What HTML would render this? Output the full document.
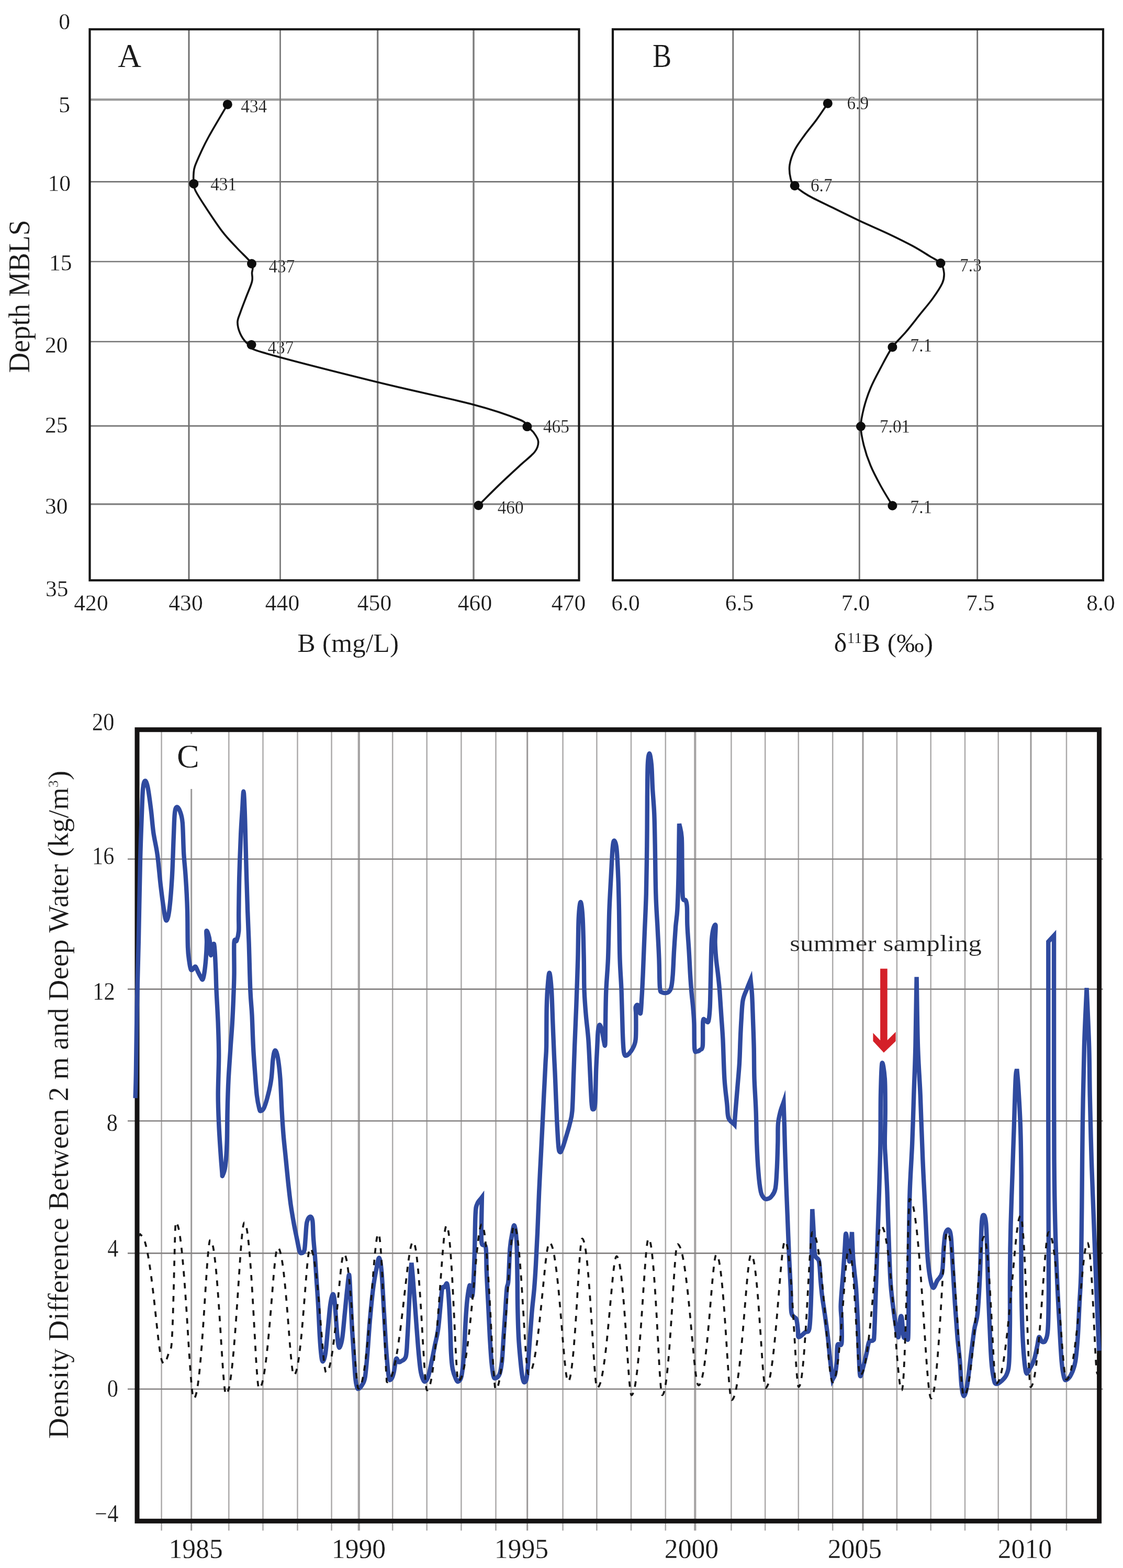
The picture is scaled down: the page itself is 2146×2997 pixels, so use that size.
<!DOCTYPE html>
<html lang="en"><head><meta charset="utf-8"><title>Figure: boron profiles and density difference</title>
<style>html,body{margin:0;padding:0;background:#fff}body{width:2146px;height:2997px;overflow:hidden}svg{display:block}text{font-family:'Liberation Serif', 'DejaVu Serif', serif}</style>
</head><body>
<svg width="2146" height="2997" viewBox="0 0 2146 2997">
<rect width="2146" height="2997" fill="#fff"/>
<g id="panelAB">
<line x1="171.5" y1="190.4" x2="2108.0" y2="190.4" stroke="#9a9a9a" stroke-width="4.4" />
<line x1="171.5" y1="347.4" x2="2108.0" y2="347.4" stroke="#737373" stroke-width="2.7" />
<line x1="171.5" y1="500.0" x2="2108.0" y2="500.0" stroke="#787878" stroke-width="2.7" />
<line x1="171.5" y1="653.0" x2="2108.0" y2="653.0" stroke="#737373" stroke-width="2.7" />
<line x1="171.5" y1="814.2" x2="2108.0" y2="814.2" stroke="#737373" stroke-width="2.7" />
<line x1="171.5" y1="963.6" x2="2108.0" y2="963.6" stroke="#808080" stroke-width="3.4" />
<line x1="361.0" y1="56.0" x2="361.0" y2="1109.2" stroke="#707070" stroke-width="3.0" />
<line x1="535.5" y1="56.0" x2="535.5" y2="1109.2" stroke="#737373" stroke-width="2.6" />
<line x1="721.7" y1="56.0" x2="721.7" y2="1109.2" stroke="#7c7c7c" stroke-width="3.4" />
<line x1="905.0" y1="56.0" x2="905.0" y2="1109.2" stroke="#7c7c7c" stroke-width="3.4" />
<line x1="1400.8" y1="56.0" x2="1400.8" y2="1109.2" stroke="#737373" stroke-width="2.9" />
<line x1="1642.3" y1="56.0" x2="1642.3" y2="1109.2" stroke="#737373" stroke-width="2.9" />
<line x1="1867.7" y1="56.0" x2="1867.7" y2="1109.2" stroke="#737373" stroke-width="2.9" />
<rect x="171.5" y="56" width="935.0" height="1053.2" fill="none" stroke="#161616" stroke-width="4.2"/>
<rect x="1171" y="56" width="937" height="1053.2" fill="none" stroke="#161616" stroke-width="4.2"/>
<path d="M434.8 199.7C422.9 220.1 407.4 245.8 399.0 261.0C390.6 276.1 388.6 281.2 384.2 290.6C379.8 300.1 374.9 310.8 372.5 317.7C370.1 324.6 370.4 326.4 370.0 332.0C369.6 337.6 369.7 345.8 370.3 351.2C370.9 356.6 369.9 357.4 373.5 364.5C377.1 371.6 383.0 381.0 391.6 394.0C400.2 407.0 414.6 429.2 424.9 442.6C435.1 456.0 443.8 464.2 453.2 474.4C462.5 484.7 476.3 496.1 481.0 504.0C485.7 511.9 481.4 516.3 481.5 522.0C481.6 527.7 483.3 530.8 481.5 538.2C479.8 545.6 474.7 556.5 470.9 566.5C467.1 576.5 461.7 590.1 458.9 598.4C456.0 606.6 453.9 609.6 453.9 616.1C453.9 622.6 456.0 630.8 458.9 637.3C461.7 643.8 467.3 651.4 470.9 655.0C474.5 658.6 475.6 656.0 480.5 659.0C485.4 662.0 459.8 661.1 500.0 673.0C540.2 684.9 654.2 713.8 721.7 730.5C789.2 747.2 859.9 761.5 905.0 773.4C950.1 785.3 975.5 795.0 992.6 802.0C1009.7 809.0 1002.9 811.2 1007.4 815.3C1011.9 819.4 1016.2 821.9 1019.7 826.6C1023.2 831.4 1028.2 837.6 1028.6 843.8C1029.0 849.9 1028.0 855.7 1022.0 863.5C1016.0 871.3 1004.1 879.9 992.6 890.6C981.1 901.3 966.0 915.0 953.0 927.6C940.0 940.2 927.2 953.2 914.3 966.0" fill="none" stroke="#111" stroke-width="3.6" stroke-linecap="round" stroke-linejoin="round"/>
<path d="M1581.8 197.7C1574.7 208.0 1567.8 218.7 1560.5 228.6C1553.2 238.6 1545.0 248.0 1538.0 257.6C1531.0 267.3 1523.5 277.0 1518.7 286.6C1513.8 296.3 1510.3 306.5 1509.0 315.6C1507.7 324.7 1509.3 334.8 1510.9 341.4C1512.5 347.9 1513.1 349.5 1518.7 354.9C1524.2 360.3 1532.6 366.7 1544.4 373.6C1556.2 380.4 1573.2 388.1 1589.5 396.1C1605.8 404.2 1624.1 413.3 1642.3 421.9C1660.6 430.5 1682.0 439.6 1699.0 447.6C1716.0 455.7 1731.2 463.2 1744.1 470.2C1757.0 477.2 1767.4 484.0 1776.3 489.5C1785.2 495.0 1792.9 497.7 1797.5 503.0C1802.2 508.4 1803.4 515.4 1804.0 521.7C1804.5 528.0 1804.3 533.0 1800.8 541.0C1797.2 549.1 1790.0 559.8 1782.7 570.0C1775.4 580.2 1765.6 591.5 1757.0 602.2C1748.4 613.0 1739.8 624.2 1731.2 634.4C1722.6 644.6 1713.5 652.0 1705.4 663.4C1697.4 674.8 1689.9 690.0 1682.9 703.1C1675.9 716.1 1668.9 728.8 1663.6 741.7C1658.2 754.6 1653.8 768.1 1650.7 780.3C1647.6 792.6 1644.9 803.3 1644.9 815.1C1644.9 826.9 1647.6 838.7 1650.7 851.2C1653.8 863.6 1658.2 877.0 1663.6 889.8C1668.9 902.7 1675.9 915.7 1682.9 928.5C1689.9 941.3 1697.9 953.8 1705.4 966.5" fill="none" stroke="#111" stroke-width="3.6" stroke-linecap="round" stroke-linejoin="round"/>
<circle cx="434.8" cy="199.7" r="9.0" fill="#0d0d0d"/>
<circle cx="370.3" cy="351.2" r="9.0" fill="#0d0d0d"/>
<circle cx="481.0" cy="504.0" r="9.0" fill="#0d0d0d"/>
<circle cx="480.5" cy="659.0" r="9.0" fill="#0d0d0d"/>
<circle cx="1007.4" cy="815.3" r="9.0" fill="#0d0d0d"/>
<circle cx="914.3" cy="966.0" r="9.0" fill="#0d0d0d"/>
<circle cx="1581.8" cy="197.7" r="9.0" fill="#0d0d0d"/>
<circle cx="1518.7" cy="354.9" r="9.0" fill="#0d0d0d"/>
<circle cx="1797.5" cy="503.0" r="9.0" fill="#0d0d0d"/>
<circle cx="1705.4" cy="663.4" r="9.0" fill="#0d0d0d"/>
<circle cx="1644.9" cy="815.0" r="9.0" fill="#0d0d0d"/>
<circle cx="1705.4" cy="966.5" r="9.0" fill="#0d0d0d"/>
<text transform="translate(460.3 214.9) scale(0.9500 1)" font-size="35" text-anchor="start" fill="#1a1a1a" stroke="#fff" stroke-width="0.25" >434</text>
<text transform="translate(402.2 364.0) scale(0.9500 1)" font-size="35" text-anchor="start" fill="#1a1a1a" stroke="#fff" stroke-width="0.25" >431</text>
<text transform="translate(513.4 520.5) scale(0.9500 1)" font-size="35" text-anchor="start" fill="#1a1a1a" stroke="#fff" stroke-width="0.25" >437</text>
<text transform="translate(511.5 676.0) scale(0.9500 1)" font-size="35" text-anchor="start" fill="#1a1a1a" stroke="#fff" stroke-width="0.25" >437</text>
<text transform="translate(1038.0 826.6) scale(0.9500 1)" font-size="35" text-anchor="start" fill="#1a1a1a" stroke="#fff" stroke-width="0.25" >465</text>
<text transform="translate(950.7 981.8) scale(0.9500 1)" font-size="35" text-anchor="start" fill="#1a1a1a" stroke="#fff" stroke-width="0.25" >460</text>
<text transform="translate(1618.5 209.3) scale(0.9500 1)" font-size="35" text-anchor="start" fill="#1a1a1a" stroke="#fff" stroke-width="0.25" >6.9</text>
<text transform="translate(1549.0 365.8) scale(0.9500 1)" font-size="35" text-anchor="start" fill="#1a1a1a" stroke="#fff" stroke-width="0.25" >6.7</text>
<text transform="translate(1834.2 518.5) scale(0.9500 1)" font-size="35" text-anchor="start" fill="#1a1a1a" stroke="#fff" stroke-width="0.25" >7.3</text>
<text transform="translate(1739.6 671.8) scale(0.9500 1)" font-size="35" text-anchor="start" fill="#1a1a1a" stroke="#fff" stroke-width="0.25" >7.1</text>
<text transform="translate(1681.0 826.7) scale(0.9500 1)" font-size="35" text-anchor="start" fill="#1a1a1a" stroke="#fff" stroke-width="0.25" >7.01</text>
<text transform="translate(1739.6 981.3) scale(0.9500 1)" font-size="35" text-anchor="start" fill="#1a1a1a" stroke="#fff" stroke-width="0.25" >7.1</text>
<text transform="translate(134.0 56.0) scale(0.9850 1)" font-size="44.2" text-anchor="end" fill="#1a1a1a" stroke="#fff" stroke-width="0.25" >0</text>
<text transform="translate(134.0 214.8) scale(0.9850 1)" font-size="44.2" text-anchor="end" fill="#1a1a1a" stroke="#fff" stroke-width="0.25" >5</text>
<text transform="translate(135.0 364.5) scale(0.9850 1)" font-size="44.2" text-anchor="end" fill="#1a1a1a" stroke="#fff" stroke-width="0.25" >10</text>
<text transform="translate(137.5 517.3) scale(0.9850 1)" font-size="44.2" text-anchor="end" fill="#1a1a1a" stroke="#fff" stroke-width="0.25" >15</text>
<text transform="translate(129.5 673.7) scale(0.9850 1)" font-size="44.2" text-anchor="end" fill="#1a1a1a" stroke="#fff" stroke-width="0.25" >20</text>
<text transform="translate(129.5 826.7) scale(0.9850 1)" font-size="44.2" text-anchor="end" fill="#1a1a1a" stroke="#fff" stroke-width="0.25" >25</text>
<text transform="translate(129.5 982.0) scale(0.9850 1)" font-size="44.2" text-anchor="end" fill="#1a1a1a" stroke="#fff" stroke-width="0.25" >30</text>
<text transform="translate(130.5 1140.0) scale(0.9850 1)" font-size="44.2" text-anchor="end" fill="#1a1a1a" stroke="#fff" stroke-width="0.25" >35</text>
<text transform="translate(174.0 1166.7) scale(0.9850 1)" font-size="44.2" text-anchor="middle" fill="#1a1a1a" stroke="#fff" stroke-width="0.25" >420</text>
<text transform="translate(355.0 1166.7) scale(0.9850 1)" font-size="44.2" text-anchor="middle" fill="#1a1a1a" stroke="#fff" stroke-width="0.25" >430</text>
<text transform="translate(539.5 1166.7) scale(0.9850 1)" font-size="44.2" text-anchor="middle" fill="#1a1a1a" stroke="#fff" stroke-width="0.25" >440</text>
<text transform="translate(715.5 1166.7) scale(0.9850 1)" font-size="44.2" text-anchor="middle" fill="#1a1a1a" stroke="#fff" stroke-width="0.25" >450</text>
<text transform="translate(907.5 1166.7) scale(0.9850 1)" font-size="44.2" text-anchor="middle" fill="#1a1a1a" stroke="#fff" stroke-width="0.25" >460</text>
<text transform="translate(1086.5 1166.7) scale(0.9850 1)" font-size="44.2" text-anchor="middle" fill="#1a1a1a" stroke="#fff" stroke-width="0.25" >470</text>
<text transform="translate(1195.5 1166.7) scale(0.9850 1)" font-size="44.2" text-anchor="middle" fill="#1a1a1a" stroke="#fff" stroke-width="0.25" >6.0</text>
<text transform="translate(1413.0 1166.7) scale(0.9850 1)" font-size="44.2" text-anchor="middle" fill="#1a1a1a" stroke="#fff" stroke-width="0.25" >6.5</text>
<text transform="translate(1635.0 1166.7) scale(0.9850 1)" font-size="44.2" text-anchor="middle" fill="#1a1a1a" stroke="#fff" stroke-width="0.25" >7.0</text>
<text transform="translate(1873.5 1166.7) scale(0.9850 1)" font-size="44.2" text-anchor="middle" fill="#1a1a1a" stroke="#fff" stroke-width="0.25" >7.5</text>
<text transform="translate(2103.5 1166.7) scale(0.9850 1)" font-size="44.2" text-anchor="middle" fill="#1a1a1a" stroke="#fff" stroke-width="0.25" >8.0</text>
<text transform="translate(225.0 128.0) scale(0.9800 1)" font-size="64" text-anchor="start" fill="#1a1a1a" stroke="#fff" stroke-width="0.25" >A</text>
<text transform="translate(1247.0 127.5) scale(0.8500 1)" font-size="64" text-anchor="start" fill="#1a1a1a" stroke="#fff" stroke-width="0.25" >B</text>
<text transform="translate(55.6 566.5) rotate(-90) scale(0.9480 1)" font-size="57" text-anchor="middle" fill="#1a1a1a" stroke="#fff" stroke-width="0.25" >Depth MBLS</text>
<text transform="translate(665.2 1245.5) scale(1.0050 1)" font-size="51.5" text-anchor="middle" fill="#1a1a1a" stroke="#fff" stroke-width="0.25" >B (mg/L)</text>
<text transform="translate(1688.4 1246.0) scale(1.0250 1)" font-size="51.5" text-anchor="middle" fill="#1a1a1a" stroke="#fff" stroke-width="0.25" >δ<tspan font-size="29" dy="-17">11</tspan><tspan dy="17">B (‰)</tspan></text>
</g>
<g id="panelC">
<line x1="308.6" y1="1394.7" x2="308.6" y2="2925.5" stroke="#acaaaa" stroke-width="2.5" />
<line x1="365.7" y1="1394.7" x2="365.7" y2="2925.5" stroke="#9b9999" stroke-width="3.0" />
<line x1="437.3" y1="1394.7" x2="437.3" y2="2925.5" stroke="#acaaaa" stroke-width="2.5" />
<line x1="502.5" y1="1394.7" x2="502.5" y2="2925.5" stroke="#acaaaa" stroke-width="2.5" />
<line x1="568.5" y1="1394.7" x2="568.5" y2="2925.5" stroke="#acaaaa" stroke-width="2.5" />
<line x1="633.6" y1="1394.7" x2="633.6" y2="2925.5" stroke="#acaaaa" stroke-width="2.5" />
<line x1="685.8" y1="1394.7" x2="685.8" y2="2925.5" stroke="#a5a3a3" stroke-width="4.2" />
<line x1="750.2" y1="1394.7" x2="750.2" y2="2925.5" stroke="#acaaaa" stroke-width="2.5" />
<line x1="815.7" y1="1394.7" x2="815.7" y2="2925.5" stroke="#acaaaa" stroke-width="2.5" />
<line x1="881.4" y1="1394.7" x2="881.4" y2="2925.5" stroke="#acaaaa" stroke-width="2.5" />
<line x1="947.5" y1="1394.7" x2="947.5" y2="2925.5" stroke="#acaaaa" stroke-width="2.5" />
<line x1="1007.7" y1="1394.7" x2="1007.7" y2="2925.5" stroke="#9b9999" stroke-width="3.0" />
<line x1="1075.6" y1="1394.7" x2="1075.6" y2="2925.5" stroke="#acaaaa" stroke-width="2.5" />
<line x1="1140.4" y1="1394.7" x2="1140.4" y2="2925.5" stroke="#acaaaa" stroke-width="2.5" />
<line x1="1206.0" y1="1394.7" x2="1206.0" y2="2925.5" stroke="#acaaaa" stroke-width="2.5" />
<line x1="1271.8" y1="1394.7" x2="1271.8" y2="2925.5" stroke="#acaaaa" stroke-width="2.5" />
<line x1="1328.3" y1="1394.7" x2="1328.3" y2="2925.5" stroke="#a5a3a3" stroke-width="4.2" />
<line x1="1397.4" y1="1394.7" x2="1397.4" y2="2925.5" stroke="#acaaaa" stroke-width="2.5" />
<line x1="1462.2" y1="1394.7" x2="1462.2" y2="2925.5" stroke="#acaaaa" stroke-width="2.5" />
<line x1="1525.8" y1="1394.7" x2="1525.8" y2="2925.5" stroke="#acaaaa" stroke-width="2.5" />
<line x1="1591.2" y1="1394.7" x2="1591.2" y2="2925.5" stroke="#acaaaa" stroke-width="2.5" />
<line x1="1649.0" y1="1394.7" x2="1649.0" y2="2925.5" stroke="#9b9999" stroke-width="3.0" />
<line x1="1713.9" y1="1394.7" x2="1713.9" y2="2925.5" stroke="#acaaaa" stroke-width="2.5" />
<line x1="1778.7" y1="1394.7" x2="1778.7" y2="2925.5" stroke="#acaaaa" stroke-width="2.5" />
<line x1="1844.0" y1="1394.7" x2="1844.0" y2="2925.5" stroke="#acaaaa" stroke-width="2.5" />
<line x1="1907.7" y1="1394.7" x2="1907.7" y2="2925.5" stroke="#acaaaa" stroke-width="2.5" />
<line x1="1970.0" y1="1394.7" x2="1970.0" y2="2925.5" stroke="#9b9999" stroke-width="3.0" />
<line x1="2038.0" y1="1394.7" x2="2038.0" y2="2925.5" stroke="#acaaaa" stroke-width="2.5" />
<line x1="244.0" y1="1642.0" x2="2107.5" y2="1642.0" stroke="#858282" stroke-width="2.7" />
<line x1="244.0" y1="1890.6" x2="2107.5" y2="1890.6" stroke="#858282" stroke-width="2.7" />
<line x1="244.0" y1="2142.5" x2="2107.5" y2="2142.5" stroke="#858282" stroke-width="2.7" />
<line x1="244.0" y1="2395.4" x2="2107.5" y2="2395.4" stroke="#858282" stroke-width="2.7" />
<line x1="244.0" y1="2655.0" x2="2107.5" y2="2655.0" stroke="#858282" stroke-width="2.7" />
<rect x="340" y="1403" width="60" height="105" fill="#fff"/>
<rect x="262" y="1394.7" width="1838.6" height="1512.6000000000001" fill="none" stroke="#151313" stroke-width="9"/>
<path d="M258.6 2098.8C259.1 2081.9 259.4 2077.2 259.9 2048.1C260.4 2019.1 260.9 1965.8 261.7 1924.7C262.6 1883.5 263.8 1847.5 264.8 1801.2C265.8 1754.9 266.9 1688.1 267.9 1646.9C268.9 1605.8 270.1 1577.5 271.0 1554.3C271.9 1531.2 272.1 1518.3 273.1 1508.0C274.2 1497.7 275.6 1493.1 277.2 1492.6C278.7 1492.1 280.5 1495.7 282.4 1504.9C284.3 1514.2 286.8 1533.7 288.6 1548.1C290.4 1562.6 291.2 1577.0 293.2 1591.4C295.3 1605.8 298.6 1617.6 300.9 1634.6C303.2 1651.5 305.0 1675.7 307.1 1693.2C309.2 1710.7 311.5 1728.4 313.3 1739.5C315.1 1750.6 316.2 1759.6 317.9 1759.6C319.6 1759.6 321.7 1753.1 323.5 1739.5C325.3 1725.9 327.3 1700.9 328.7 1677.8C330.1 1654.6 330.9 1621.2 331.8 1600.6C332.7 1580.0 332.9 1564.0 334.0 1554.3C335.0 1544.7 336.3 1543.1 338.0 1542.6C339.7 1542.1 342.3 1546.2 344.1 1551.2C345.9 1556.3 347.6 1559.5 348.8 1572.8C349.9 1586.2 350.2 1614.0 351.2 1631.5C352.3 1649.0 353.8 1659.8 354.9 1677.8C356.1 1695.8 357.4 1717.4 358.0 1739.5C358.7 1761.6 358.3 1794.0 359.0 1810.5C359.6 1827.0 360.8 1831.2 361.7 1838.3C362.7 1845.4 363.6 1850.8 364.8 1853.1C366.0 1855.4 367.4 1853.1 368.8 1852.2C370.3 1851.2 371.9 1846.8 373.5 1847.5C375.0 1848.3 376.5 1853.7 378.1 1856.8C379.6 1859.9 381.2 1863.5 382.7 1866.0C384.3 1868.6 386.1 1873.3 387.3 1872.2C388.6 1871.2 389.4 1866.6 390.4 1859.9C391.5 1853.2 392.7 1841.9 393.5 1832.1C394.3 1822.3 394.9 1810.0 395.1 1801.2C395.2 1792.5 393.9 1782.2 394.4 1779.6C395.0 1777.1 397.0 1782.2 398.1 1785.8C399.3 1789.4 400.5 1794.5 401.2 1801.2C402.0 1807.9 401.5 1825.4 402.8 1825.9C404.1 1826.4 407.4 1800.7 409.0 1804.3C410.5 1807.9 411.3 1832.6 412.0 1847.5C412.8 1862.4 412.8 1875.8 413.6 1893.8C414.4 1911.8 415.9 1935.0 416.7 1955.6C417.4 1976.1 418.2 1994.4 418.2 2017.3C418.2 2040.1 416.7 2070.8 416.7 2092.6C416.7 2114.4 417.4 2130.1 418.2 2148.1C419.0 2166.2 420.3 2185.2 421.3 2200.6C422.3 2216.0 423.7 2233.0 424.4 2240.7C425.1 2248.5 424.3 2249.0 425.3 2246.9C426.3 2244.9 429.2 2238.7 430.6 2228.4C431.9 2218.1 433.0 2202.7 433.6 2185.2C434.3 2167.7 434.1 2144.0 434.6 2123.5C435.1 2102.9 435.7 2082.3 436.7 2061.7C437.8 2041.2 439.6 2017.7 440.7 2000.0C441.9 1982.3 443.0 1970.7 443.8 1955.6C444.7 1940.4 445.4 1924.7 446.0 1909.3C446.6 1893.8 447.3 1881.0 447.5 1863.0C447.8 1845.0 446.8 1812.0 447.5 1801.2C448.3 1790.4 450.7 1801.7 452.2 1798.1C453.6 1794.5 455.5 1788.4 456.2 1779.6C456.8 1770.9 456.0 1763.7 456.2 1745.7C456.4 1727.7 456.7 1696.8 457.4 1671.6C458.1 1646.4 459.3 1615.0 460.2 1594.4C461.1 1573.9 462.1 1561.8 463.0 1548.1C463.8 1534.5 464.7 1512.7 465.4 1512.7C466.2 1512.7 467.0 1533.5 467.6 1548.1C468.2 1562.8 468.6 1580.0 469.1 1600.6C469.7 1621.2 470.3 1648.5 471.0 1671.6C471.7 1694.8 472.4 1717.9 473.1 1739.5C473.9 1761.1 474.7 1775.5 475.6 1801.2C476.5 1827.0 477.4 1870.7 478.4 1893.8C479.4 1917.0 480.6 1922.1 481.5 1940.1C482.4 1958.1 483.0 1984.2 484.0 2001.9C484.9 2019.5 485.9 2031.2 487.0 2046.3C488.2 2061.4 489.4 2080.5 490.7 2092.6C492.1 2104.7 494.1 2113.7 495.4 2118.8C496.7 2124.0 496.9 2123.7 498.5 2123.5C500.0 2123.2 502.3 2122.4 504.6 2117.3C506.9 2112.1 510.0 2101.9 512.3 2092.6C514.7 2083.3 517.0 2073.0 518.5 2061.7C520.1 2050.4 520.4 2033.7 521.6 2024.7C522.8 2015.7 524.1 2008.2 525.6 2007.7C527.2 2007.2 529.2 2012.6 530.9 2021.6C532.5 2030.6 534.2 2044.8 535.5 2061.7C536.8 2078.7 537.6 2105.5 538.6 2123.5C539.6 2141.5 540.4 2154.3 541.7 2169.8C543.0 2185.2 544.8 2200.6 546.3 2216.0C547.8 2231.5 549.4 2247.9 550.9 2262.3C552.5 2276.7 553.8 2289.6 555.6 2302.5C557.4 2315.3 559.7 2328.2 561.7 2339.5C563.8 2350.8 566.1 2361.6 567.9 2370.4C569.7 2379.1 571.0 2387.9 572.5 2392.0C574.1 2396.1 575.6 2395.6 577.2 2395.1C578.7 2394.5 580.7 2394.0 581.8 2388.9C582.9 2383.7 583.2 2372.9 584.0 2364.2C584.7 2355.5 585.0 2342.8 586.4 2336.4C587.9 2330.0 590.8 2326.1 592.6 2325.6C594.4 2325.1 596.2 2326.9 597.2 2333.3C598.3 2339.8 598.0 2352.9 598.8 2364.2C599.5 2375.5 600.8 2387.3 601.9 2401.2C602.9 2415.1 603.9 2432.1 604.9 2447.5C606.0 2463.0 607.0 2475.8 608.0 2493.8C609.1 2511.8 610.1 2539.1 611.1 2555.6C612.1 2572.0 613.2 2584.9 614.2 2592.6C615.2 2600.3 616.0 2602.9 617.3 2601.9C618.6 2600.8 620.4 2596.7 621.9 2586.4C623.5 2576.1 625.0 2555.6 626.5 2540.1C628.1 2524.7 629.6 2504.9 631.2 2493.8C632.7 2482.8 634.4 2474.8 635.8 2473.8C637.2 2472.7 638.2 2476.6 639.5 2487.7C640.8 2498.7 642.3 2526.2 643.5 2540.1C644.7 2554.0 645.6 2565.3 646.6 2571.0C647.6 2576.6 648.4 2576.6 649.7 2574.1C651.0 2571.5 652.8 2566.4 654.3 2555.6C655.9 2544.8 657.4 2524.7 659.0 2509.3C660.5 2493.8 662.2 2475.1 663.6 2463.0C665.0 2450.9 666.3 2434.2 667.3 2436.7C668.3 2439.3 668.8 2461.2 669.8 2478.4C670.7 2495.6 671.8 2522.1 672.8 2540.1C673.9 2558.1 674.9 2571.0 675.9 2586.4C677.0 2601.9 678.0 2621.9 679.0 2632.7C680.0 2643.5 681.1 2647.6 682.1 2651.2C683.1 2654.8 683.6 2654.8 685.2 2654.3C686.7 2653.8 689.3 2651.7 691.4 2648.1C693.4 2644.5 695.7 2643.0 697.5 2632.7C699.3 2622.4 700.6 2604.4 702.2 2586.4C703.7 2568.4 705.0 2545.3 706.8 2524.7C708.6 2504.1 710.9 2479.4 713.0 2463.0C715.0 2446.5 717.2 2435.7 719.1 2425.9C721.1 2416.2 722.9 2403.3 724.6 2404.3C726.3 2405.3 727.7 2414.6 729.3 2432.1C730.8 2449.6 732.3 2483.5 733.9 2509.3C735.4 2535.0 737.0 2565.8 738.5 2586.4C740.1 2607.0 741.6 2624.5 743.1 2632.7C744.7 2640.9 746.2 2637.3 747.8 2635.8C749.3 2634.3 750.9 2629.9 752.4 2623.5C754.0 2617.0 755.5 2600.6 757.0 2597.2C758.6 2593.9 760.1 2602.6 761.7 2603.4C763.2 2604.2 764.0 2603.7 766.3 2601.9C768.6 2600.1 773.5 2600.3 775.6 2592.6C777.6 2584.9 777.6 2572.0 778.6 2555.6C779.7 2539.1 780.7 2514.4 781.7 2493.8C782.8 2473.3 784.0 2445.5 784.8 2432.1C785.6 2418.7 785.8 2419.8 786.4 2413.6C787.4 2424.9 788.2 2431.6 789.4 2447.5C790.7 2463.5 792.5 2488.7 794.1 2509.3C795.6 2529.8 797.2 2553.0 798.7 2571.0C800.2 2589.0 801.8 2606.5 803.3 2617.3C804.9 2628.1 806.4 2631.9 808.0 2635.8C809.5 2639.7 810.8 2641.5 812.6 2640.4C814.4 2639.4 816.7 2636.1 818.8 2629.6C820.8 2623.2 822.9 2611.6 824.9 2601.9C827.0 2592.1 829.1 2581.3 831.1 2571.0C833.2 2560.7 835.5 2553.0 837.3 2540.1C839.1 2527.3 840.6 2506.7 841.9 2493.8C843.2 2481.0 843.7 2468.6 845.0 2463.0C846.3 2457.3 848.1 2461.4 849.6 2459.9C851.2 2458.3 853.0 2450.6 854.3 2453.7C855.5 2456.8 856.3 2464.0 857.3 2478.4C858.4 2492.8 859.7 2522.1 860.4 2540.1C861.2 2558.1 861.2 2573.6 862.0 2586.4C862.7 2599.3 863.5 2609.1 865.1 2617.3C866.6 2625.5 869.4 2631.9 871.2 2635.8C873.0 2639.7 874.1 2641.5 875.9 2640.4C877.7 2639.4 880.2 2638.6 882.0 2629.6C883.8 2620.6 885.4 2603.9 886.7 2586.4C888.0 2568.9 888.7 2541.7 889.8 2524.7C890.8 2507.7 891.6 2495.9 892.8 2484.6C894.1 2473.3 896.2 2458.3 897.5 2456.8C898.8 2455.2 899.5 2473.3 900.6 2475.3C901.6 2477.4 902.6 2481.5 903.6 2469.1C904.7 2456.8 905.9 2425.9 906.7 2401.2C907.6 2376.5 907.7 2337.7 908.6 2321.0C909.5 2304.3 909.9 2306.3 912.0 2300.9C914.0 2295.5 917.9 2292.7 920.9 2288.6C920.6 2305.6 920.1 2324.8 920.0 2339.5C919.9 2354.2 919.2 2369.1 920.6 2376.5C922.0 2384.0 926.8 2375.0 928.3 2384.3C929.9 2393.5 929.1 2413.8 929.9 2432.1C930.6 2450.4 931.9 2473.3 933.0 2493.8C934.0 2514.4 935.0 2537.6 936.0 2555.6C937.1 2573.6 938.0 2589.5 939.1 2601.9C940.3 2614.2 941.6 2624.2 942.8 2629.6C944.1 2635.0 944.9 2634.8 946.9 2634.3C948.8 2633.7 952.5 2631.9 954.6 2626.5C956.6 2621.1 957.9 2613.7 959.2 2601.9C960.5 2590.0 961.3 2571.0 962.3 2555.6C963.3 2540.1 964.3 2524.7 965.4 2509.3C966.4 2493.8 967.4 2473.3 968.5 2463.0C969.5 2452.7 970.5 2460.4 971.5 2447.5C972.6 2434.7 973.3 2401.2 974.6 2385.8C975.9 2370.4 977.9 2362.1 979.3 2354.9C980.6 2347.7 981.7 2340.0 983.0 2342.6C984.2 2345.2 986.0 2355.5 987.0 2370.4C987.9 2385.3 988.2 2411.5 988.5 2432.1C988.9 2452.7 988.7 2473.3 989.1 2493.8C989.5 2514.4 990.1 2537.6 991.0 2555.6C991.9 2573.6 993.5 2589.0 994.7 2601.9C995.9 2614.7 997.1 2626.0 998.4 2632.7C999.7 2639.4 1001.0 2642.5 1002.4 2642.0C1003.8 2641.5 1005.5 2641.5 1007.0 2629.6C1008.6 2617.8 1010.1 2591.0 1011.7 2571.0C1013.2 2550.9 1014.8 2527.3 1016.3 2509.3C1017.8 2491.3 1019.6 2478.4 1020.9 2463.0C1022.2 2447.5 1023.0 2434.7 1024.0 2416.7C1025.0 2398.7 1026.1 2378.1 1027.1 2354.9C1028.1 2331.8 1029.2 2300.9 1030.2 2277.8C1031.2 2254.6 1032.2 2236.6 1033.3 2216.0C1034.3 2195.5 1035.3 2174.9 1036.4 2154.3C1037.4 2133.7 1038.4 2113.2 1039.4 2092.6C1040.5 2072.0 1041.8 2046.3 1042.5 2030.9C1043.3 2015.4 1043.7 2017.7 1044.1 2000.0C1044.4 1982.3 1044.2 1945.0 1044.7 1924.7C1045.2 1904.4 1046.2 1889.2 1047.2 1878.4C1048.1 1867.6 1049.1 1857.3 1050.2 1859.9C1051.4 1862.4 1052.9 1877.9 1054.0 1893.8C1055.0 1909.8 1055.6 1935.0 1056.4 1955.6C1057.2 1976.1 1058.1 1999.6 1058.9 2017.3C1059.7 2035.0 1060.2 2041.5 1061.0 2061.7C1061.9 2082.0 1063.1 2117.3 1064.1 2138.9C1065.2 2160.5 1066.2 2180.8 1067.2 2191.4C1068.3 2201.9 1069.0 2201.6 1070.3 2202.2C1071.6 2202.7 1072.9 2199.8 1074.9 2194.4C1077.0 2189.0 1080.3 2177.5 1082.7 2169.8C1085.0 2162.0 1087.0 2155.9 1088.8 2148.1C1090.6 2140.4 1092.3 2137.9 1093.5 2123.5C1094.6 2109.1 1095.2 2082.3 1095.9 2061.7C1096.7 2041.2 1097.2 2022.8 1098.1 2000.0C1099.0 1977.2 1100.1 1952.7 1101.2 1924.7C1102.2 1896.7 1103.5 1860.4 1104.3 1832.1C1105.0 1803.8 1104.9 1772.9 1105.8 1754.9C1106.7 1736.9 1108.2 1724.1 1109.5 1724.1C1110.8 1724.1 1112.5 1736.9 1113.5 1754.9C1114.5 1772.9 1115.2 1809.0 1115.7 1832.1C1116.2 1855.2 1115.9 1875.8 1116.6 1893.8C1117.3 1911.8 1118.4 1924.7 1119.7 1940.1C1121.0 1955.6 1123.0 1968.7 1124.3 1986.4C1125.6 2004.1 1126.4 2026.0 1127.4 2046.3C1128.4 2066.6 1129.5 2095.7 1130.5 2108.0C1131.5 2120.4 1132.4 2120.4 1133.6 2120.4C1134.7 2120.4 1136.4 2120.4 1137.3 2108.0C1138.2 2095.7 1138.5 2064.3 1139.1 2046.3C1139.8 2028.3 1140.7 2012.6 1141.3 2000.0C1141.9 1987.4 1142.1 1977.9 1142.8 1971.0C1143.6 1964.1 1144.6 1958.6 1145.9 1958.6C1147.2 1958.6 1149.3 1966.1 1150.6 1971.0C1151.8 1975.9 1152.7 1983.6 1153.6 1988.0C1154.6 1992.3 1155.9 2002.6 1156.4 1997.2C1157.0 1991.8 1156.7 1972.8 1157.0 1955.6C1157.3 1938.3 1157.4 1914.4 1158.3 1893.8C1159.1 1873.3 1160.9 1857.8 1162.0 1832.1C1163.0 1806.4 1163.5 1765.2 1164.4 1739.5C1165.4 1713.8 1166.5 1697.3 1167.5 1677.8C1168.6 1658.2 1169.6 1634.1 1170.6 1622.2C1171.6 1610.4 1172.4 1606.8 1173.7 1606.8C1175.0 1606.8 1177.0 1610.4 1178.3 1622.2C1179.6 1634.1 1180.6 1658.2 1181.4 1677.8C1182.2 1697.3 1182.4 1713.8 1183.0 1739.5C1183.5 1765.2 1183.7 1806.4 1184.5 1832.1C1185.3 1857.8 1186.7 1870.7 1187.6 1893.8C1188.5 1917.0 1189.0 1951.4 1189.8 1971.0C1190.5 1990.5 1190.9 2003.4 1192.2 2011.1C1193.5 2018.8 1195.0 2018.3 1197.7 2017.3C1200.4 2016.3 1205.7 2010.1 1208.5 2004.9C1211.3 1999.8 1213.6 1997.2 1214.7 1986.4C1215.8 1975.6 1215.3 1950.4 1215.3 1940.1C1215.3 1929.8 1214.0 1927.8 1214.7 1924.7C1215.4 1921.6 1217.8 1919.5 1219.3 1921.6C1220.9 1923.7 1222.8 1939.6 1224.0 1937.0C1225.1 1934.5 1225.6 1918.5 1226.4 1906.2C1227.2 1893.8 1227.7 1883.0 1228.6 1863.0C1229.5 1842.9 1230.6 1811.5 1231.7 1785.8C1232.7 1760.1 1234.0 1736.9 1234.8 1708.6C1235.5 1680.3 1235.9 1646.9 1236.3 1616.0C1236.7 1585.2 1236.7 1549.2 1236.9 1523.5C1237.2 1497.7 1237.2 1475.6 1237.8 1461.7C1238.5 1447.8 1239.7 1440.1 1240.9 1440.1C1242.1 1440.1 1243.9 1450.4 1244.9 1461.7C1246.0 1473.0 1246.2 1492.6 1247.1 1508.0C1248.0 1523.5 1249.4 1536.3 1250.2 1554.3C1251.0 1572.3 1251.2 1590.3 1251.7 1616.0C1252.2 1641.8 1252.5 1682.9 1253.3 1708.6C1254.0 1734.4 1255.3 1749.8 1256.4 1770.4C1257.4 1790.9 1258.7 1812.6 1259.4 1832.1C1260.2 1851.6 1260.0 1876.9 1261.0 1887.7C1262.0 1898.5 1263.0 1895.4 1265.6 1896.9C1268.2 1898.5 1273.6 1898.5 1276.4 1896.9C1279.2 1895.4 1281.0 1893.3 1282.6 1887.7C1284.1 1882.0 1284.8 1874.8 1285.7 1863.0C1286.6 1851.1 1287.2 1832.1 1288.1 1816.7C1289.1 1801.2 1290.2 1783.2 1291.2 1770.4C1292.3 1757.5 1293.4 1754.9 1294.3 1739.5C1295.2 1724.1 1296.0 1698.4 1296.5 1677.8C1297.0 1657.2 1297.2 1633.3 1297.4 1616.0C1297.7 1598.8 1297.8 1588.3 1298.0 1574.4C1299.6 1583.1 1301.7 1586.0 1302.7 1600.6C1303.6 1615.3 1303.2 1643.3 1303.6 1662.3C1303.9 1681.4 1303.7 1705.0 1304.8 1714.8C1305.9 1724.6 1309.0 1717.9 1310.4 1721.0C1311.7 1724.1 1312.3 1725.1 1312.8 1733.3C1313.4 1741.6 1312.8 1756.5 1313.5 1770.4C1314.1 1784.3 1315.6 1801.2 1316.5 1816.7C1317.5 1832.1 1318.2 1850.1 1319.0 1863.0C1319.8 1875.8 1320.3 1883.5 1321.2 1893.8C1322.0 1904.1 1323.4 1914.4 1324.3 1924.7C1325.1 1935.0 1325.9 1942.2 1326.4 1955.6C1326.9 1968.9 1326.4 1995.9 1327.3 2004.9C1328.3 2013.9 1330.2 2009.3 1332.0 2009.6C1333.8 2009.8 1336.3 2008.3 1338.1 2006.5C1339.9 2004.7 1341.9 2007.8 1342.8 1998.8C1343.7 1989.8 1342.6 1960.7 1343.4 1952.5C1344.2 1944.2 1345.7 1949.4 1347.4 1949.4C1349.1 1949.4 1352.0 1956.6 1353.6 1952.5C1355.1 1948.4 1355.9 1939.6 1356.7 1924.7C1357.4 1909.8 1357.7 1883.5 1358.2 1863.0C1358.7 1842.4 1359.0 1815.6 1359.8 1801.2C1360.5 1786.8 1361.6 1781.9 1362.8 1776.5C1364.1 1771.1 1366.9 1764.7 1367.5 1768.8C1368.1 1772.9 1366.4 1790.7 1366.5 1801.2C1366.7 1811.8 1367.5 1821.8 1368.4 1832.1C1369.3 1842.4 1371.0 1852.7 1372.1 1863.0C1373.2 1873.3 1374.2 1881.0 1375.2 1893.8C1376.2 1906.7 1377.2 1924.7 1378.3 1940.1C1379.3 1955.6 1380.3 1966.2 1381.4 1986.4C1382.4 2006.7 1383.1 2041.1 1384.4 2061.7C1385.7 2082.3 1388.0 2097.4 1389.3 2110.0C1390.6 2122.6 1389.8 2130.4 1392.2 2137.0C1394.6 2143.6 1399.8 2145.3 1403.6 2149.5C1404.3 2139.7 1404.8 2131.9 1405.8 2120.0C1406.8 2108.1 1408.1 2092.6 1409.3 2077.8C1410.5 2063.1 1412.1 2046.9 1413.0 2031.5C1413.9 2016.1 1414.2 1999.1 1414.8 1985.2C1415.4 1971.3 1415.9 1960.3 1416.7 1948.1C1417.5 1935.9 1417.8 1921.8 1419.6 1912.0C1421.4 1902.2 1425.1 1896.1 1427.6 1889.5C1430.1 1882.9 1432.1 1878.2 1434.4 1872.6C1435.3 1881.7 1436.2 1887.4 1437.0 1900.0C1437.8 1912.6 1438.3 1930.8 1438.9 1948.1C1439.5 1965.4 1440.3 1984.8 1440.7 2003.7C1441.1 2022.6 1440.9 2041.8 1441.5 2061.7C1442.2 2081.7 1443.9 2102.9 1444.6 2123.5C1445.4 2144.0 1445.4 2165.6 1446.2 2185.2C1446.9 2204.7 1448.0 2225.3 1449.3 2240.7C1450.5 2256.2 1452.1 2269.5 1453.9 2277.8C1455.7 2286.0 1458.0 2287.8 1460.1 2290.1C1462.1 2292.4 1463.9 2292.2 1466.2 2291.7C1468.5 2291.2 1471.4 2290.4 1474.0 2287.0C1476.5 2283.7 1479.9 2280.9 1481.7 2271.6C1483.5 2262.3 1484.0 2245.9 1484.8 2231.5C1485.5 2217.1 1485.9 2199.1 1486.3 2185.2C1486.7 2171.3 1486.1 2158.2 1486.9 2148.1C1487.7 2138.1 1489.5 2131.9 1491.2 2125.0C1493.0 2118.1 1495.3 2112.7 1497.4 2106.5C1497.9 2122.4 1498.5 2138.6 1499.0 2154.3C1499.4 2170.0 1499.6 2182.6 1500.2 2200.6C1500.8 2218.6 1501.6 2241.8 1502.3 2262.3C1503.1 2282.9 1503.9 2300.9 1504.8 2324.1C1505.7 2347.2 1506.9 2378.1 1507.9 2401.2C1508.9 2424.4 1510.2 2445.0 1511.0 2463.0C1511.8 2481.0 1510.7 2499.5 1512.5 2509.3C1514.3 2519.0 1519.7 2515.9 1521.8 2521.6C1523.8 2527.3 1524.1 2537.6 1524.9 2543.2C1525.6 2548.9 1524.1 2555.0 1526.4 2555.6C1528.7 2556.1 1535.4 2548.9 1538.8 2546.3C1542.1 2543.7 1544.7 2548.9 1546.5 2540.1C1548.3 2531.4 1548.8 2511.8 1549.6 2493.8C1550.3 2475.8 1550.9 2452.7 1551.1 2432.1C1551.4 2411.5 1550.9 2390.5 1551.1 2370.4C1551.3 2350.2 1551.9 2330.9 1552.3 2311.1C1553.2 2325.7 1554.0 2340.4 1554.8 2354.9C1555.6 2369.4 1555.6 2388.9 1557.3 2398.1C1559.0 2407.4 1563.2 2402.3 1565.0 2410.5C1566.8 2418.7 1567.1 2436.2 1568.1 2447.5C1569.1 2458.8 1569.9 2468.1 1571.2 2478.4C1572.5 2488.7 1574.0 2496.4 1575.8 2509.3C1577.6 2522.1 1580.2 2540.1 1582.0 2555.6C1583.8 2571.0 1585.1 2588.4 1586.6 2601.9C1588.1 2615.3 1589.7 2624.9 1591.2 2636.4C1592.8 2633.1 1594.6 2632.3 1595.9 2626.5C1597.2 2620.8 1598.2 2611.1 1599.0 2601.9C1599.7 2592.6 1599.0 2576.6 1600.5 2571.0C1602.0 2565.3 1606.9 2575.6 1608.2 2567.9C1609.5 2560.2 1608.5 2537.0 1608.2 2524.7C1608.0 2512.3 1606.2 2509.3 1606.7 2493.8C1607.2 2478.4 1610.0 2450.1 1611.3 2432.1C1612.6 2414.1 1613.5 2398.1 1614.4 2385.8C1615.3 2373.5 1615.5 2358.0 1616.5 2358.0C1617.6 2358.0 1619.4 2377.1 1620.6 2385.8C1621.7 2394.5 1622.4 2415.6 1623.6 2410.5C1624.9 2405.3 1626.5 2373.5 1628.0 2354.9C1628.7 2370.4 1629.3 2388.4 1630.1 2401.2C1630.9 2414.1 1631.9 2421.8 1632.9 2432.1C1633.9 2442.4 1635.0 2447.5 1636.0 2463.0C1637.0 2478.4 1638.2 2504.1 1639.1 2524.7C1639.9 2545.3 1640.5 2568.9 1641.2 2586.4C1642.0 2603.9 1642.3 2625.5 1643.7 2629.6C1645.1 2633.7 1647.8 2618.3 1649.9 2611.1C1651.9 2603.9 1654.2 2594.1 1656.0 2586.4C1657.8 2578.7 1658.6 2568.9 1660.7 2564.8C1662.7 2560.7 1666.7 2564.3 1668.4 2561.7C1670.1 2559.2 1669.8 2565.8 1670.7 2549.4C1671.6 2532.9 1672.7 2492.8 1673.8 2463.0C1674.8 2433.1 1675.8 2401.2 1676.9 2370.4C1677.9 2339.5 1679.0 2308.6 1680.0 2277.8C1680.9 2246.9 1681.9 2216.0 1682.4 2185.2C1682.9 2154.3 1682.5 2118.1 1683.0 2092.6C1683.6 2067.1 1684.2 2037.6 1685.5 2032.4C1686.8 2027.3 1689.7 2046.6 1690.8 2061.7C1691.8 2076.9 1691.7 2102.9 1691.7 2123.5C1691.7 2144.0 1690.7 2169.8 1690.8 2185.2C1690.9 2200.6 1691.5 2200.6 1692.3 2216.0C1693.1 2231.5 1694.4 2252.1 1695.4 2277.8C1696.4 2303.5 1697.4 2342.1 1698.5 2370.4C1699.5 2398.7 1700.3 2427.0 1701.6 2447.5C1702.8 2468.1 1704.4 2478.9 1706.2 2493.8C1708.0 2508.7 1710.6 2526.7 1712.4 2537.0C1714.2 2547.3 1715.7 2558.1 1717.0 2555.6C1718.3 2553.0 1719.0 2527.8 1720.1 2521.6C1721.1 2515.4 1722.0 2512.9 1723.2 2518.5C1724.3 2524.2 1725.4 2550.4 1726.9 2555.6C1728.3 2560.7 1730.4 2549.4 1731.8 2549.4C1733.2 2549.4 1734.7 2570.0 1735.5 2555.6C1736.3 2541.2 1736.2 2493.8 1736.4 2463.0C1736.7 2432.1 1736.7 2401.2 1737.0 2370.4C1737.4 2339.5 1737.6 2308.6 1738.6 2277.8C1739.6 2246.9 1741.9 2216.0 1743.2 2185.2C1744.5 2154.3 1745.3 2123.5 1746.3 2092.6C1747.3 2061.7 1748.5 2037.6 1749.4 2000.0C1750.3 1962.4 1750.8 1911.5 1751.6 1867.3C1752.4 1911.5 1752.8 1962.4 1754.0 2000.0C1755.2 2037.6 1757.1 2056.6 1758.7 2092.6C1760.2 2128.6 1761.7 2180.0 1763.3 2216.0C1764.8 2252.1 1766.4 2277.8 1767.9 2308.6C1769.5 2339.5 1771.0 2379.1 1772.5 2401.2C1774.1 2423.4 1775.4 2431.3 1777.2 2441.4C1779.0 2451.4 1781.0 2460.4 1783.3 2461.4C1785.7 2462.4 1788.2 2452.4 1791.1 2447.5C1793.9 2442.6 1798.3 2442.4 1800.3 2432.1C1802.4 2421.8 1802.4 2398.1 1803.4 2385.8C1804.4 2373.5 1805.0 2363.9 1806.5 2358.0C1808.0 2352.1 1810.9 2349.3 1812.7 2350.3C1814.5 2351.3 1816.0 2353.1 1817.3 2364.2C1818.6 2375.3 1819.1 2395.1 1820.4 2416.7C1821.7 2438.3 1823.5 2470.7 1825.0 2493.8C1826.6 2517.0 1828.1 2537.6 1829.6 2555.6C1831.2 2573.6 1833.0 2586.4 1834.3 2601.9C1835.6 2617.3 1836.1 2637.1 1837.4 2648.1C1838.6 2659.2 1840.2 2668.2 1842.0 2668.2C1843.8 2668.2 1845.8 2661.8 1848.2 2648.1C1850.5 2634.5 1853.6 2604.4 1855.9 2586.4C1858.2 2568.4 1860.0 2553.0 1862.0 2540.1C1864.1 2527.3 1866.4 2527.3 1868.2 2509.3C1870.0 2491.3 1871.6 2460.4 1872.9 2432.1C1874.1 2403.8 1874.8 2357.8 1875.9 2339.5C1877.1 2321.2 1878.6 2322.5 1880.0 2322.5C1881.3 2322.5 1883.1 2326.4 1884.3 2339.5C1885.4 2352.6 1886.1 2380.7 1886.7 2401.2C1887.4 2421.8 1887.5 2439.8 1888.3 2463.0C1889.1 2486.1 1890.3 2517.0 1891.4 2540.1C1892.4 2563.3 1893.2 2585.9 1894.5 2601.9C1895.7 2617.8 1897.5 2628.6 1899.1 2635.8C1900.6 2643.0 1901.1 2644.5 1903.7 2645.1C1906.3 2645.6 1911.2 2642.0 1914.5 2638.9C1917.9 2635.8 1921.5 2632.7 1923.8 2626.5C1926.1 2620.4 1927.4 2618.8 1928.4 2601.9C1929.4 2584.9 1929.7 2553.0 1930.0 2524.7C1930.2 2496.4 1929.7 2463.0 1930.0 2432.1C1930.2 2401.2 1930.7 2370.4 1931.5 2339.5C1932.3 2308.6 1933.6 2277.8 1934.6 2246.9C1935.6 2216.0 1936.6 2185.2 1937.7 2154.3C1938.7 2123.5 1939.8 2080.2 1940.8 2061.7C1941.7 2043.2 1942.4 2049.4 1943.2 2043.2C1944.1 2054.5 1944.9 2058.6 1946.0 2077.2C1947.1 2095.7 1949.1 2126.0 1950.0 2154.3C1950.9 2182.6 1951.3 2216.0 1951.6 2246.9C1951.8 2277.8 1951.6 2308.6 1951.6 2339.5C1951.6 2370.4 1951.3 2401.2 1951.6 2432.1C1951.8 2463.0 1952.3 2499.0 1953.1 2524.7C1953.9 2550.4 1954.9 2570.0 1956.2 2586.4C1957.5 2602.9 1959.0 2618.3 1960.8 2623.5C1962.6 2628.6 1964.4 2621.4 1967.0 2617.3C1969.6 2613.2 1973.7 2606.5 1976.2 2598.8C1978.8 2591.0 1980.9 2578.2 1982.4 2571.0C1984.0 2563.8 1984.0 2556.6 1985.5 2555.6C1987.0 2554.5 1989.6 2563.8 1991.7 2564.8C1993.7 2565.8 1996.1 2565.8 1997.9 2561.7C1999.7 2557.6 2001.5 2556.6 2002.5 2540.1C2003.5 2523.7 2003.8 2501.5 2004.0 2463.0C2004.2 2424.4 2003.7 2360.1 2003.6 2308.6C2003.4 2257.2 2003.3 2205.8 2003.3 2154.3C2003.2 2102.9 2003.3 2059.1 2003.3 2000.0C2003.3 1940.9 2003.3 1866.6 2003.3 1799.9C2006.9 1795.9 2010.5 1792.0 2014.1 1788.1C2014.1 1858.7 2014.0 1928.7 2014.1 2000.0C2014.1 2071.3 2014.1 2159.5 2014.5 2216.0C2014.9 2272.6 2015.5 2303.5 2016.4 2339.5C2017.2 2375.5 2018.2 2401.2 2019.5 2432.1C2020.7 2463.0 2022.5 2496.4 2024.1 2524.7C2025.6 2553.0 2027.2 2583.8 2028.7 2601.9C2030.3 2619.9 2031.8 2626.8 2033.3 2632.7C2034.9 2638.6 2035.7 2638.4 2038.0 2637.3C2040.3 2636.3 2044.4 2632.5 2047.2 2626.5C2050.1 2620.6 2052.9 2613.7 2055.0 2601.9C2057.0 2590.0 2058.3 2573.6 2059.6 2555.6C2060.9 2537.6 2061.6 2514.4 2062.7 2493.8C2063.7 2473.3 2065.0 2463.0 2065.8 2432.1C2066.5 2401.2 2066.8 2354.9 2067.3 2308.6C2067.8 2262.3 2068.1 2205.8 2068.8 2154.3C2069.6 2102.9 2070.6 2044.3 2071.9 2000.0C2073.2 1955.7 2075.0 1925.5 2076.6 1888.3C2078.1 1925.5 2080.2 1965.9 2081.2 2000.0C2082.2 2034.1 2082.0 2056.6 2082.7 2092.6C2083.5 2128.6 2084.5 2174.9 2085.8 2216.0C2087.1 2257.2 2088.9 2298.4 2090.4 2339.5C2092.0 2380.7 2093.6 2427.0 2095.1 2463.0C2096.5 2499.0 2098.2 2535.8 2099.1 2555.6C2100.0 2575.4 2099.9 2573.0 2100.3 2581.8" fill="none" stroke="#2f4a9f" stroke-width="8.4" stroke-linecap="butt" stroke-linejoin="miter" stroke-miterlimit="7"/>
<path d="M264.0 2362.0C264.2 2362.0 264.5 2362.0 264.7 2361.9C265.0 2361.9 265.2 2361.8 265.4 2361.6C265.6 2361.5 265.9 2361.4 266.1 2361.3C266.3 2361.1 266.5 2361.0 266.7 2360.8C266.8 2360.6 267.0 2360.5 267.2 2360.3C267.4 2360.2 267.5 2360.1 267.7 2360.0C267.8 2359.8 268.0 2359.7 268.1 2359.7C268.2 2359.6 267.3 2358.1 268.5 2359.6C269.7 2361.1 273.2 2363.0 275.4 2369.0C277.7 2375.0 280.0 2384.6 282.1 2395.7C284.3 2406.8 286.4 2421.1 288.4 2435.7C290.4 2450.2 292.4 2467.1 294.2 2482.8C296.0 2498.5 297.7 2515.4 299.3 2529.9C300.9 2544.5 302.4 2558.8 303.9 2569.9C305.4 2581.0 306.7 2590.6 308.1 2596.6C309.4 2602.6 311.0 2604.6 312.0 2606.0C313.0 2607.4 313.5 2605.6 314.3 2604.9C315.0 2604.3 315.8 2603.2 316.5 2601.9C317.2 2600.6 317.9 2599.0 318.6 2597.4C319.3 2595.7 319.9 2593.8 320.5 2592.0C321.1 2590.2 321.7 2588.3 322.2 2586.6C322.7 2585.0 323.2 2583.4 323.7 2582.1C324.2 2580.8 324.6 2579.7 325.1 2579.1C325.5 2578.4 325.9 2579.7 326.4 2578.0C326.9 2576.3 327.4 2574.7 327.9 2568.8C328.4 2562.9 328.9 2553.5 329.4 2542.6C329.9 2531.6 330.4 2517.6 330.8 2503.3C331.2 2489.0 331.7 2472.4 332.1 2457.0C332.5 2441.6 332.8 2425.0 333.2 2410.7C333.6 2396.4 333.9 2382.4 334.2 2371.4C334.5 2360.5 334.8 2351.1 335.1 2345.2C335.4 2339.3 334.9 2335.4 336.0 2336.0C337.1 2336.6 339.7 2340.6 341.5 2348.8C343.3 2357.1 345.1 2370.2 346.8 2385.4C348.5 2400.6 350.2 2420.2 351.8 2440.0C353.4 2459.9 354.9 2483.0 356.4 2504.5C357.8 2526.0 359.1 2549.1 360.4 2569.0C361.7 2588.8 362.9 2608.4 364.1 2623.6C365.2 2638.8 366.3 2651.9 367.4 2660.2C368.4 2668.4 369.1 2672.8 370.5 2673.0C371.9 2673.2 373.9 2668.9 375.5 2661.5C377.2 2654.1 378.8 2642.3 380.4 2628.6C381.9 2615.0 383.5 2597.3 384.9 2579.5C386.4 2561.6 387.8 2540.8 389.1 2521.5C390.4 2502.2 391.6 2481.4 392.8 2463.5C394.0 2445.7 395.1 2428.0 396.1 2414.4C397.2 2400.7 398.2 2388.9 399.1 2381.5C400.1 2374.1 400.7 2370.1 402.0 2370.0C403.3 2369.9 405.2 2374.0 406.8 2381.2C408.4 2388.4 409.9 2399.9 411.4 2413.2C412.9 2426.5 414.4 2443.7 415.7 2461.1C417.1 2478.4 418.4 2498.7 419.7 2517.5C420.9 2536.3 422.1 2556.6 423.2 2573.9C424.4 2591.3 425.4 2608.5 426.4 2621.8C427.4 2635.1 428.4 2646.6 429.3 2653.8C430.2 2661.0 430.6 2665.2 432.0 2665.0C433.4 2664.8 435.8 2660.5 437.6 2652.5C439.4 2644.5 441.2 2631.7 443.0 2616.9C444.7 2602.1 446.4 2583.0 448.0 2563.6C449.6 2544.2 451.2 2521.7 452.6 2500.8C454.1 2479.8 455.5 2457.3 456.8 2437.9C458.1 2418.5 459.3 2399.4 460.5 2384.6C461.7 2369.8 462.7 2357.0 463.8 2349.0C464.9 2341.0 465.7 2336.6 467.0 2336.5C468.3 2336.4 470.0 2340.8 471.5 2348.6C473.0 2356.3 474.4 2368.7 475.8 2383.0C477.2 2397.3 478.6 2415.8 479.9 2434.5C481.2 2453.2 482.5 2475.0 483.6 2495.2C484.8 2515.5 485.9 2537.3 487.0 2556.0C488.0 2574.7 489.0 2593.2 489.9 2607.5C490.9 2621.8 491.8 2634.2 492.6 2641.9C493.5 2649.7 493.8 2653.7 495.2 2654.0C496.6 2654.3 499.0 2650.3 500.9 2643.7C502.8 2637.2 504.6 2626.7 506.4 2614.5C508.2 2602.4 509.9 2586.7 511.6 2570.8C513.2 2554.9 514.8 2536.4 516.3 2519.2C517.8 2502.1 519.2 2483.6 520.5 2467.7C521.8 2451.8 523.0 2436.1 524.2 2424.0C525.4 2411.8 526.6 2401.3 527.7 2394.8C528.8 2388.2 529.5 2384.7 530.9 2384.5C532.3 2384.3 534.2 2387.8 535.8 2393.8C537.4 2399.7 539.0 2409.2 540.6 2420.2C542.1 2431.2 543.6 2445.4 545.0 2459.8C546.4 2474.2 547.8 2490.9 549.1 2506.5C550.4 2522.1 551.6 2538.8 552.7 2553.2C553.9 2567.6 554.9 2581.8 556.0 2592.8C557.0 2603.8 558.0 2613.3 558.9 2619.2C559.9 2625.2 560.4 2628.5 561.7 2628.5C563.0 2628.5 565.0 2625.2 566.6 2619.3C568.2 2613.3 569.9 2603.9 571.4 2593.0C572.9 2582.0 574.4 2567.9 575.9 2553.6C577.3 2539.3 578.6 2522.6 579.9 2507.2C581.2 2491.7 582.4 2475.0 583.6 2460.7C584.7 2446.4 585.8 2432.3 586.8 2421.3C587.9 2410.4 588.8 2401.0 589.8 2395.0C590.8 2389.1 591.3 2385.8 592.6 2385.8C593.9 2385.8 595.9 2389.0 597.5 2394.8C599.1 2400.6 600.8 2409.9 602.3 2420.6C603.8 2431.3 605.3 2445.2 606.8 2459.2C608.2 2473.2 609.5 2489.5 610.8 2504.7C612.1 2519.8 613.3 2536.1 614.5 2550.1C615.6 2564.1 616.7 2578.0 617.7 2588.7C618.8 2599.4 619.7 2608.7 620.7 2614.5C621.7 2620.3 622.1 2623.4 623.5 2623.5C624.9 2623.6 627.1 2620.4 628.9 2614.9C630.7 2609.3 632.4 2600.5 634.1 2590.3C635.8 2580.0 637.5 2566.8 639.0 2553.5C640.6 2540.1 642.1 2524.5 643.5 2510.1C644.9 2495.6 646.2 2480.0 647.5 2466.6C648.8 2453.3 649.9 2440.1 651.1 2429.8C652.2 2419.6 653.3 2410.8 654.3 2405.2C655.4 2399.7 656.1 2396.4 657.4 2396.6C658.7 2396.8 660.4 2400.1 661.8 2406.4C663.3 2412.7 664.7 2422.7 666.1 2434.3C667.5 2446.0 668.9 2461.0 670.1 2476.1C671.4 2491.3 672.6 2509.0 673.8 2525.4C675.0 2541.9 676.1 2559.6 677.1 2574.8C678.1 2589.9 679.1 2604.9 680.0 2616.6C681.0 2628.2 681.8 2638.2 682.7 2644.5C683.5 2650.8 683.8 2654.5 685.2 2654.3C686.6 2654.1 689.3 2650.3 691.2 2643.0C693.2 2635.8 695.2 2624.3 697.1 2610.9C699.0 2597.5 700.8 2580.3 702.6 2562.8C704.3 2545.4 706.0 2525.0 707.6 2506.2C709.1 2487.3 710.6 2466.9 712.0 2449.5C713.5 2432.0 714.8 2414.8 716.0 2401.4C717.3 2388.0 718.5 2376.5 719.7 2369.3C720.8 2362.0 722.1 2358.1 723.1 2358.0C724.1 2357.9 724.9 2361.9 725.8 2368.8C726.7 2375.7 727.6 2386.8 728.4 2399.6C729.2 2412.4 730.1 2428.9 730.8 2445.7C731.6 2462.4 732.4 2481.9 733.1 2500.0C733.8 2518.1 734.4 2537.6 735.1 2554.3C735.7 2571.1 736.3 2587.6 736.9 2600.4C737.4 2613.2 737.9 2624.3 738.5 2631.2C739.0 2638.1 738.4 2641.9 740.0 2642.0C741.6 2642.1 745.3 2638.3 747.9 2631.8C750.5 2625.2 753.0 2614.8 755.5 2602.7C758.0 2590.6 760.4 2574.9 762.6 2559.1C764.9 2543.3 767.1 2524.9 769.1 2507.8C771.2 2490.6 773.1 2472.2 775.0 2456.4C776.8 2440.6 778.5 2424.9 780.2 2412.8C781.9 2400.7 783.4 2390.3 784.9 2383.7C786.5 2377.2 787.9 2373.4 789.4 2373.5C790.9 2373.6 792.3 2377.4 793.7 2384.3C795.1 2391.2 796.5 2402.3 797.8 2415.1C799.2 2427.9 800.5 2444.4 801.7 2461.1C803.0 2477.9 804.2 2497.3 805.3 2515.4C806.4 2533.6 807.4 2553.0 808.4 2569.8C809.5 2586.5 810.4 2603.0 811.3 2615.8C812.2 2628.6 813.0 2639.7 813.9 2646.6C814.7 2653.5 814.9 2657.6 816.3 2657.4C817.7 2657.2 820.3 2653.1 822.2 2645.4C824.1 2637.7 826.1 2625.5 827.9 2611.3C829.7 2597.1 831.5 2578.8 833.3 2560.2C835.0 2541.7 836.6 2520.1 838.1 2500.0C839.7 2479.9 841.1 2458.3 842.5 2439.8C843.9 2421.2 845.2 2402.9 846.4 2388.7C847.6 2374.5 848.8 2362.3 849.9 2354.6C851.1 2346.9 852.1 2342.7 853.3 2342.6C854.5 2342.5 855.7 2346.7 856.9 2353.9C858.1 2361.2 859.3 2372.8 860.4 2386.2C861.5 2399.6 862.6 2417.0 863.7 2434.5C864.7 2452.1 865.7 2472.5 866.6 2491.5C867.6 2510.5 868.5 2530.9 869.3 2548.5C870.1 2566.0 870.9 2583.4 871.7 2596.8C872.4 2610.2 873.2 2621.8 873.9 2629.1C874.6 2636.3 874.4 2640.4 875.9 2640.4C877.4 2640.4 880.7 2636.3 883.0 2629.0C885.4 2621.6 887.7 2610.0 889.9 2596.4C892.1 2582.9 894.3 2565.4 896.4 2547.7C898.4 2530.0 900.4 2509.4 902.3 2490.2C904.1 2471.0 905.9 2450.4 907.6 2432.7C909.2 2415.0 910.8 2397.5 912.3 2384.0C913.8 2370.4 915.2 2358.8 916.6 2351.4C917.9 2344.1 919.2 2339.9 920.6 2340.0C922.0 2340.1 923.5 2344.3 924.9 2352.0C926.3 2359.7 927.7 2372.0 929.0 2386.3C930.4 2400.5 931.7 2418.9 932.9 2437.5C934.2 2456.1 935.4 2477.8 936.5 2497.9C937.6 2518.1 938.6 2539.8 939.6 2558.4C940.7 2577.0 941.6 2595.4 942.5 2609.6C943.4 2623.9 944.2 2636.2 945.1 2643.9C945.9 2651.6 946.2 2655.9 947.5 2655.9C948.8 2655.9 951.2 2651.6 953.0 2644.0C954.9 2636.3 956.7 2624.1 958.4 2610.0C960.1 2595.9 961.8 2577.7 963.4 2559.2C965.0 2540.7 966.6 2519.2 968.0 2499.2C969.5 2479.3 970.8 2457.8 972.1 2439.3C973.4 2420.8 974.6 2402.6 975.8 2388.5C977.0 2374.4 978.1 2362.2 979.1 2354.5C980.2 2346.9 981.0 2342.8 982.3 2342.6C983.6 2342.4 985.3 2346.5 986.7 2353.4C988.2 2360.3 989.6 2371.4 991.0 2384.2C992.4 2397.0 993.7 2413.5 995.0 2430.2C996.3 2447.0 997.5 2466.4 998.6 2484.5C999.8 2502.7 1000.9 2522.1 1001.9 2538.9C1002.9 2555.6 1003.9 2572.1 1004.8 2584.9C1005.8 2597.7 1006.6 2608.8 1007.5 2615.7C1008.4 2622.6 1008.5 2626.3 1010.0 2626.5C1011.5 2626.7 1014.3 2623.1 1016.4 2616.9C1018.5 2610.8 1020.6 2601.0 1022.6 2589.7C1024.6 2578.3 1026.6 2563.7 1028.4 2548.9C1030.3 2534.1 1032.0 2516.8 1033.7 2500.8C1035.4 2484.7 1037.0 2467.4 1038.5 2452.6C1040.0 2437.8 1041.4 2423.2 1042.7 2411.8C1044.1 2400.5 1045.3 2390.7 1046.6 2384.6C1047.8 2378.4 1048.6 2374.9 1050.2 2375.0C1051.8 2375.1 1054.0 2378.6 1055.9 2385.1C1057.7 2391.6 1059.6 2401.9 1061.3 2413.9C1063.1 2425.8 1064.8 2441.3 1066.5 2456.9C1068.1 2472.6 1069.7 2490.8 1071.1 2507.7C1072.6 2524.6 1074.0 2542.8 1075.3 2558.5C1076.7 2574.1 1077.9 2589.6 1079.1 2601.5C1080.3 2613.5 1081.4 2623.8 1082.5 2630.3C1083.6 2636.8 1084.4 2640.4 1085.7 2640.4C1087.0 2640.4 1088.6 2636.7 1090.0 2630.0C1091.4 2623.3 1092.8 2612.7 1094.1 2600.4C1095.5 2588.1 1096.8 2572.2 1098.0 2556.1C1099.3 2540.0 1100.5 2521.3 1101.6 2503.9C1102.7 2486.4 1103.7 2467.7 1104.7 2451.6C1105.8 2435.5 1106.7 2419.6 1107.6 2407.3C1108.5 2395.0 1109.3 2384.4 1110.2 2377.7C1111.0 2371.0 1111.4 2367.2 1112.6 2367.3C1113.8 2367.4 1115.7 2371.2 1117.2 2378.2C1118.7 2385.1 1120.2 2396.2 1121.6 2409.1C1123.0 2422.0 1124.4 2438.6 1125.7 2455.4C1127.1 2472.2 1128.3 2491.8 1129.5 2510.1C1130.7 2528.3 1131.9 2547.9 1132.9 2564.7C1134.0 2581.5 1135.0 2598.1 1136.0 2611.0C1136.9 2623.9 1137.8 2635.0 1138.7 2641.9C1139.6 2648.9 1139.9 2652.6 1141.3 2652.8C1142.7 2653.0 1145.3 2649.4 1147.2 2643.2C1149.1 2637.1 1151.1 2627.3 1152.9 2616.0C1154.7 2604.6 1156.5 2590.0 1158.3 2575.1C1160.0 2560.3 1161.6 2543.0 1163.1 2527.0C1164.7 2511.0 1166.1 2493.7 1167.5 2478.9C1168.9 2464.0 1170.2 2449.4 1171.4 2438.0C1172.6 2426.7 1173.8 2416.9 1174.9 2410.8C1176.1 2404.6 1177.0 2401.1 1178.3 2401.2C1179.6 2401.3 1181.4 2404.8 1182.9 2411.3C1184.4 2417.8 1185.9 2428.1 1187.3 2440.1C1188.7 2452.1 1190.1 2467.5 1191.4 2483.1C1192.8 2498.8 1194.0 2517.0 1195.2 2533.9C1196.4 2550.9 1197.6 2569.1 1198.6 2584.8C1199.7 2600.4 1200.7 2615.8 1201.7 2627.8C1202.6 2639.8 1203.5 2650.1 1204.4 2656.6C1205.3 2663.1 1205.7 2666.9 1207.0 2666.7C1208.3 2666.5 1210.5 2662.6 1212.2 2655.3C1213.9 2648.0 1215.5 2636.4 1217.2 2622.9C1218.8 2609.4 1220.4 2591.9 1221.8 2574.3C1223.3 2556.6 1224.8 2536.1 1226.1 2517.0C1227.5 2497.9 1228.7 2477.4 1229.9 2459.7C1231.2 2442.1 1232.3 2424.6 1233.4 2411.1C1234.4 2397.6 1235.5 2386.0 1236.5 2378.7C1237.5 2371.4 1238.2 2367.3 1239.4 2367.3C1240.6 2367.3 1242.2 2371.4 1243.6 2378.7C1244.9 2386.0 1246.3 2397.6 1247.6 2411.1C1248.9 2424.6 1250.2 2442.1 1251.4 2459.7C1252.6 2477.4 1253.8 2497.9 1254.9 2517.0C1255.9 2536.1 1257.0 2556.6 1258.0 2574.3C1258.9 2591.9 1259.8 2609.4 1260.7 2622.9C1261.6 2636.4 1262.4 2648.0 1263.2 2655.3C1264.0 2662.6 1264.4 2666.6 1265.6 2666.7C1266.8 2666.8 1268.7 2662.8 1270.3 2655.7C1271.8 2648.7 1273.3 2637.4 1274.8 2624.4C1276.2 2611.4 1277.7 2594.6 1279.0 2577.6C1280.4 2560.6 1281.7 2540.8 1282.9 2522.3C1284.1 2503.9 1285.3 2484.1 1286.3 2467.1C1287.4 2450.1 1288.5 2433.3 1289.4 2420.3C1290.4 2407.3 1291.3 2396.0 1292.2 2389.0C1293.2 2381.9 1293.4 2378.1 1294.9 2378.0C1296.4 2377.9 1299.2 2381.7 1301.3 2388.3C1303.4 2394.9 1305.5 2405.4 1307.5 2417.5C1309.5 2429.7 1311.4 2445.4 1313.3 2461.3C1315.1 2477.2 1316.9 2495.8 1318.6 2513.0C1320.2 2530.2 1321.8 2548.8 1323.3 2564.7C1324.8 2580.6 1326.2 2596.3 1327.5 2608.5C1328.9 2620.6 1330.1 2631.1 1331.4 2637.7C1332.6 2644.3 1333.5 2647.9 1335.0 2648.0C1336.5 2648.1 1338.6 2644.6 1340.4 2638.5C1342.2 2632.4 1344.0 2622.7 1345.7 2611.4C1347.4 2600.1 1349.0 2585.6 1350.6 2570.8C1352.1 2556.1 1353.6 2538.9 1355.1 2523.0C1356.5 2507.1 1357.8 2489.9 1359.1 2475.2C1360.3 2460.4 1361.5 2445.9 1362.7 2434.6C1363.8 2423.3 1364.9 2413.6 1365.9 2407.5C1367.0 2401.4 1367.7 2397.8 1369.0 2398.0C1370.3 2398.2 1372.1 2401.8 1373.7 2408.6C1375.2 2415.4 1376.7 2426.2 1378.2 2438.7C1379.6 2451.2 1381.1 2467.4 1382.4 2483.8C1383.8 2500.2 1385.1 2519.3 1386.3 2537.0C1387.5 2554.7 1388.7 2573.8 1389.7 2590.2C1390.8 2606.6 1391.9 2622.8 1392.8 2635.3C1393.8 2647.8 1394.7 2658.6 1395.6 2665.4C1396.6 2672.2 1396.9 2676.0 1398.3 2676.0C1399.7 2676.0 1402.3 2672.2 1404.2 2665.4C1406.2 2658.6 1408.1 2647.8 1409.9 2635.3C1411.8 2622.8 1413.6 2606.6 1415.3 2590.2C1417.0 2573.8 1418.6 2554.7 1420.2 2537.0C1421.7 2519.3 1423.2 2500.2 1424.6 2483.8C1426.0 2467.4 1427.2 2451.2 1428.5 2438.7C1429.7 2426.2 1430.9 2415.4 1432.0 2408.6C1433.2 2401.8 1434.1 2398.1 1435.4 2398.0C1436.7 2397.9 1438.4 2401.5 1439.8 2407.7C1441.3 2413.9 1442.7 2423.8 1444.1 2435.3C1445.5 2446.8 1446.8 2461.6 1448.1 2476.6C1449.4 2491.7 1450.6 2509.1 1451.7 2525.4C1452.9 2541.7 1454.0 2559.1 1455.0 2574.2C1456.0 2589.2 1457.0 2604.0 1457.9 2615.5C1458.9 2627.0 1459.7 2636.9 1460.6 2643.1C1461.5 2649.3 1461.7 2653.0 1463.1 2652.8C1464.5 2652.6 1467.1 2649.0 1469.0 2642.1C1471.0 2635.3 1472.9 2624.3 1474.7 2611.7C1476.6 2599.0 1478.4 2582.7 1480.1 2566.1C1481.8 2549.6 1483.4 2530.3 1485.0 2512.4C1486.5 2494.5 1488.0 2475.2 1489.4 2458.7C1490.8 2442.1 1492.0 2425.8 1493.3 2413.1C1494.5 2400.5 1495.7 2389.5 1496.8 2382.7C1498.0 2375.8 1498.9 2372.0 1500.2 2372.0C1501.5 2372.0 1503.0 2375.8 1504.4 2382.6C1505.7 2389.4 1507.1 2400.3 1508.4 2412.9C1509.7 2425.4 1511.0 2441.7 1512.2 2458.1C1513.4 2474.6 1514.6 2493.7 1515.7 2511.5C1516.7 2529.3 1517.8 2548.4 1518.8 2564.9C1519.7 2581.3 1520.6 2597.6 1521.5 2610.1C1522.4 2622.7 1523.2 2633.6 1524.0 2640.4C1524.8 2647.2 1525.3 2651.1 1526.4 2651.0C1527.5 2650.9 1529.2 2647.0 1530.6 2639.7C1532.0 2632.5 1533.3 2621.0 1534.6 2607.7C1536.0 2594.3 1537.2 2577.1 1538.4 2559.6C1539.7 2542.2 1540.8 2521.9 1541.9 2503.0C1543.0 2484.1 1544.0 2463.8 1545.0 2446.4C1546.0 2428.9 1546.9 2411.7 1547.8 2398.3C1548.7 2385.0 1549.5 2373.5 1550.3 2366.3C1551.1 2359.0 1551.3 2355.1 1552.7 2355.0C1554.1 2354.9 1556.8 2358.9 1558.8 2365.9C1560.9 2372.9 1562.9 2384.1 1564.8 2397.0C1566.7 2410.0 1568.6 2426.7 1570.3 2443.6C1572.1 2460.5 1573.8 2480.2 1575.4 2498.5C1577.0 2516.8 1578.5 2536.5 1580.0 2553.4C1581.4 2570.3 1582.7 2587.0 1584.0 2600.0C1585.3 2612.9 1586.5 2624.1 1587.7 2631.1C1588.9 2638.1 1589.8 2641.8 1591.2 2642.0C1592.6 2642.2 1594.5 2638.5 1596.1 2632.3C1597.7 2626.0 1599.3 2616.1 1600.9 2604.5C1602.4 2593.0 1603.9 2578.1 1605.3 2563.0C1606.7 2547.9 1608.1 2530.3 1609.4 2514.0C1610.7 2497.7 1611.9 2480.1 1613.0 2465.0C1614.2 2449.9 1615.2 2435.0 1616.3 2423.5C1617.3 2411.9 1618.3 2402.0 1619.2 2395.7C1620.2 2389.5 1621.0 2386.1 1622.0 2386.0C1623.0 2385.9 1624.3 2389.3 1625.5 2395.3C1626.6 2401.2 1627.7 2410.7 1628.8 2421.7C1629.9 2432.7 1630.9 2446.8 1631.9 2461.2C1632.9 2475.5 1633.9 2492.3 1634.8 2507.8C1635.7 2523.3 1636.6 2540.1 1637.4 2554.4C1638.2 2568.8 1638.9 2582.9 1639.7 2593.9C1640.4 2604.9 1641.1 2614.4 1641.7 2620.3C1642.4 2626.3 1642.3 2629.9 1643.7 2629.6C1645.1 2629.3 1648.0 2625.7 1650.1 2618.7C1652.2 2611.7 1654.3 2600.5 1656.3 2587.6C1658.3 2574.6 1660.2 2557.9 1662.1 2541.0C1663.9 2524.1 1665.7 2504.4 1667.4 2486.1C1669.0 2467.8 1670.6 2448.1 1672.1 2431.2C1673.6 2414.3 1675.0 2397.6 1676.3 2384.6C1677.7 2371.7 1678.9 2360.5 1680.2 2353.5C1681.4 2346.5 1682.1 2342.4 1683.8 2342.6C1685.5 2342.8 1688.0 2346.9 1690.1 2354.6C1692.1 2362.3 1694.2 2374.5 1696.2 2388.7C1698.1 2402.9 1700.0 2421.2 1701.9 2439.8C1703.7 2458.3 1705.4 2479.9 1707.0 2500.0C1708.7 2520.1 1710.2 2541.7 1711.7 2560.2C1713.2 2578.8 1714.5 2597.1 1715.9 2611.3C1717.2 2625.5 1718.4 2637.7 1719.6 2645.4C1720.9 2653.1 1722.2 2657.7 1723.2 2657.4C1724.2 2657.1 1724.9 2652.4 1725.7 2643.5C1726.5 2634.6 1727.3 2620.3 1728.0 2603.8C1728.8 2587.4 1729.5 2566.1 1730.3 2544.5C1731.0 2523.0 1731.6 2497.9 1732.3 2474.6C1732.9 2451.2 1733.5 2426.1 1734.1 2404.6C1734.7 2383.0 1735.2 2361.7 1735.7 2345.3C1736.2 2328.8 1736.7 2314.5 1737.2 2305.6C1737.7 2296.7 1737.3 2291.6 1738.6 2291.7C1739.9 2291.8 1743.0 2296.9 1745.1 2306.2C1747.2 2315.5 1749.3 2330.3 1751.4 2347.5C1753.4 2364.7 1755.4 2386.9 1757.2 2409.3C1759.1 2431.8 1760.9 2457.9 1762.6 2482.2C1764.3 2506.6 1765.9 2532.7 1767.4 2555.2C1768.9 2577.6 1770.3 2599.8 1771.7 2617.0C1773.1 2634.2 1774.4 2649.0 1775.6 2658.3C1776.9 2667.6 1777.9 2672.4 1779.3 2672.8C1780.7 2673.2 1782.5 2668.5 1784.1 2660.7C1785.7 2652.9 1787.3 2640.6 1788.8 2626.3C1790.3 2611.9 1791.8 2593.4 1793.2 2574.7C1794.6 2556.0 1795.9 2534.2 1797.2 2513.9C1798.4 2493.6 1799.6 2471.8 1800.8 2453.1C1801.9 2434.4 1802.9 2415.9 1804.0 2401.5C1805.0 2387.2 1805.9 2374.9 1806.9 2367.1C1807.8 2359.3 1808.3 2355.0 1809.6 2355.0C1810.9 2355.0 1813.1 2359.3 1814.8 2366.9C1816.5 2374.6 1818.1 2386.7 1819.8 2400.8C1821.4 2415.0 1823.0 2433.2 1824.4 2451.6C1825.9 2470.1 1827.4 2491.5 1828.7 2511.5C1830.1 2531.5 1831.3 2552.9 1832.5 2571.4C1833.8 2589.8 1834.9 2608.0 1836.0 2622.2C1837.0 2636.3 1838.1 2648.4 1839.1 2656.1C1840.1 2663.7 1840.5 2667.9 1842.0 2668.0C1843.5 2668.1 1846.1 2663.8 1848.1 2656.4C1850.0 2649.0 1852.0 2637.2 1853.9 2623.5C1855.8 2609.8 1857.7 2592.1 1859.4 2574.2C1861.2 2556.3 1862.8 2535.4 1864.4 2516.0C1866.0 2496.6 1867.5 2475.7 1868.9 2457.8C1870.3 2439.9 1871.6 2422.2 1872.9 2408.5C1874.2 2394.8 1875.4 2383.0 1876.6 2375.6C1877.7 2368.2 1878.8 2364.1 1880.0 2364.0C1881.2 2363.9 1882.5 2367.8 1883.8 2374.7C1885.0 2381.6 1886.3 2392.5 1887.4 2405.2C1888.6 2417.8 1889.8 2434.2 1890.9 2450.7C1891.9 2467.3 1893.0 2486.6 1894.0 2504.5C1895.0 2522.4 1895.9 2541.7 1896.8 2558.3C1897.7 2574.8 1898.5 2591.2 1899.3 2603.8C1900.1 2616.5 1900.8 2627.4 1901.6 2634.3C1902.3 2641.2 1902.1 2645.3 1903.7 2645.0C1905.3 2644.7 1908.7 2640.6 1911.1 2632.8C1913.5 2624.9 1915.9 2612.5 1918.2 2598.0C1920.5 2583.5 1922.8 2564.8 1924.9 2545.9C1927.0 2527.0 1929.1 2505.0 1931.0 2484.5C1932.9 2464.0 1934.8 2442.0 1936.5 2423.1C1938.2 2404.2 1939.8 2385.5 1941.4 2371.0C1942.9 2356.5 1944.4 2344.1 1945.8 2336.2C1947.2 2328.4 1948.8 2324.0 1950.0 2324.0C1951.2 2324.0 1952.1 2328.5 1953.1 2336.5C1954.1 2344.4 1955.1 2357.2 1956.1 2371.9C1957.1 2386.7 1958.0 2405.7 1958.9 2425.0C1959.8 2444.3 1960.7 2466.7 1961.5 2487.6C1962.3 2508.5 1963.1 2530.9 1963.8 2550.2C1964.5 2569.5 1965.2 2588.5 1965.9 2603.3C1966.5 2618.0 1967.1 2630.8 1967.7 2638.7C1968.3 2646.7 1968.3 2651.0 1969.5 2651.2C1970.7 2651.4 1973.2 2647.2 1975.0 2639.9C1976.8 2632.7 1978.6 2621.2 1980.3 2607.8C1982.0 2594.5 1983.7 2577.2 1985.3 2559.8C1986.9 2542.3 1988.4 2522.0 1989.9 2503.1C1991.3 2484.2 1992.6 2463.9 1993.9 2446.4C1995.2 2429.0 1996.4 2411.7 1997.6 2398.4C1998.7 2385.0 1999.8 2373.5 2000.9 2366.3C2001.9 2359.0 2002.6 2355.1 2004.0 2355.0C2005.4 2354.9 2007.6 2358.8 2009.4 2365.7C2011.2 2372.6 2013.0 2383.6 2014.7 2396.3C2016.4 2409.0 2018.0 2425.4 2019.6 2442.0C2021.1 2458.7 2022.6 2478.0 2024.1 2496.0C2025.5 2514.0 2026.8 2533.3 2028.1 2550.0C2029.3 2566.6 2030.5 2583.0 2031.7 2595.7C2032.8 2608.4 2033.9 2619.4 2034.9 2626.3C2036.0 2633.2 2036.4 2636.9 2038.0 2637.0C2039.6 2637.1 2042.3 2633.4 2044.4 2627.0C2046.5 2620.6 2048.6 2610.4 2050.5 2598.6C2052.5 2586.8 2054.5 2571.6 2056.3 2556.1C2058.2 2540.7 2059.9 2522.7 2061.6 2506.0C2063.3 2489.3 2064.8 2471.3 2066.3 2455.9C2067.8 2440.4 2069.2 2425.2 2070.5 2413.4C2071.9 2401.6 2073.1 2391.4 2074.4 2385.0C2075.6 2378.6 2076.9 2375.1 2078.0 2375.0C2079.1 2374.9 2080.0 2378.4 2081.0 2384.6C2082.0 2390.7 2083.0 2400.5 2084.0 2411.8C2084.9 2423.2 2085.8 2437.8 2086.7 2452.6C2087.6 2467.4 2088.4 2484.7 2089.2 2500.8C2090.0 2516.8 2090.7 2534.1 2091.5 2548.9C2092.2 2563.7 2092.8 2578.3 2093.5 2589.7C2094.1 2601.0 2094.7 2610.8 2095.3 2616.9C2095.9 2623.1 2096.4 2623.3 2097.0 2626.5" fill="none" stroke="#161616" stroke-width="3.7" stroke-dasharray="10.5 12"/>
<path d="M1682.1 1851.6H1695.7V1988.2L1711.7 1972.2V1990L1688.9 2012L1668.4 1990V1974.2L1682.1 1988.4Z" fill="#d42028"/>
<text transform="translate(218.3 1395.5) scale(0.8900 1)" font-size="47.5" text-anchor="end" fill="#1a1a1a" stroke="#fff" stroke-width="0.25" >20</text>
<text transform="translate(218.3 1651.5) scale(0.8900 1)" font-size="47.5" text-anchor="end" fill="#1a1a1a" stroke="#fff" stroke-width="0.25" >16</text>
<text transform="translate(219.6 1910.7) scale(0.8900 1)" font-size="47.5" text-anchor="end" fill="#1a1a1a" stroke="#fff" stroke-width="0.25" >12</text>
<text transform="translate(225.0 2161.5) scale(0.8900 1)" font-size="47.5" text-anchor="end" fill="#1a1a1a" stroke="#fff" stroke-width="0.25" >8</text>
<text transform="translate(226.5 2402.0) scale(0.8900 1)" font-size="47.5" text-anchor="end" fill="#1a1a1a" stroke="#fff" stroke-width="0.25" >4</text>
<text transform="translate(226.0 2669.5) scale(0.8900 1)" font-size="47.5" text-anchor="end" fill="#1a1a1a" stroke="#fff" stroke-width="0.25" >0</text>
<text transform="translate(226.3 2909.0) scale(0.8900 1)" font-size="47.5" text-anchor="end" fill="#1a1a1a" stroke="#fff" stroke-width="0.25" >−4</text>
<text transform="translate(374.1 2977.5) scale(0.9750 1)" font-size="53" text-anchor="middle" fill="#1a1a1a" stroke="#fff" stroke-width="0.25" >1985</text>
<text transform="translate(685.5 2977.5) scale(0.9750 1)" font-size="53" text-anchor="middle" fill="#1a1a1a" stroke="#fff" stroke-width="0.25" >1990</text>
<text transform="translate(996.4 2977.5) scale(0.9750 1)" font-size="53" text-anchor="middle" fill="#1a1a1a" stroke="#fff" stroke-width="0.25" >1995</text>
<text transform="translate(1321.5 2977.5) scale(0.9750 1)" font-size="53" text-anchor="middle" fill="#1a1a1a" stroke="#fff" stroke-width="0.25" >2000</text>
<text transform="translate(1633.4 2977.5) scale(0.9750 1)" font-size="53" text-anchor="middle" fill="#1a1a1a" stroke="#fff" stroke-width="0.25" >2005</text>
<text transform="translate(1958.4 2977.5) scale(0.9750 1)" font-size="53" text-anchor="middle" fill="#1a1a1a" stroke="#fff" stroke-width="0.25" >2010</text>
<text transform="translate(338.0 1466.5)" font-size="64" text-anchor="start" fill="#1a1a1a" stroke="#fff" stroke-width="0.25" >C</text>
<text transform="translate(1509.0 1818.0) scale(1.1820 1)" font-size="43.5" text-anchor="start" fill="#222" stroke="#fff" stroke-width="0.25" >summer sampling</text>
<text transform="translate(129.6 2111.4) rotate(-90) scale(1.0280 1)" font-size="54" text-anchor="middle" fill="#1a1a1a" stroke="#fff" stroke-width="0.25" >Density Difference Between 2 m and Deep Water (kg/m<tspan font-size="27" dy="-19">3</tspan><tspan dy="19">)</tspan></text>
</g>
</svg></body></html>
